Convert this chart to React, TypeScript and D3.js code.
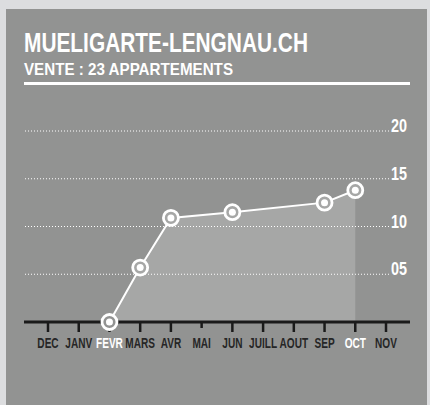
import * as d3 from "d3";

const months = ["DEC", "JANV", "FEVR", "MARS", "AVR", "MAI", "JUN", "JUILL", "AOUT", "SEP", "OCT", "NOV"];
const highlightMonths = ["FEVR", "OCT"];
const saleMonths = ["FEVR", "MARS", "AVR", "JUN", "SEP", "OCT"];
const saleValues = [0, 5.7, 10.9, 11.5, 12.5, 13.8];
const yTicks = [5, 10, 15, 20];

const W = 430;
const H = 405;
const FONT = "'Liberation Sans', Arial, sans-serif";

const PANEL = "#929392";
const AREA = "#a6a7a6";
const OUTER = "#dcdddf";

// condensed look: squeeze a normal bold font horizontally
function CondText({
	x,
	y,
	sx,
	children,
	...rest
}: { x: number; y: number; sx: number; children: any } & Record<string, any>) {
	return (
		<text transform={`translate(${x},${y}) scale(${sx},1)`} fontWeight="bold" {...rest}>
			{children}
		</text>
	);
}

export default function App() {
	const x = d3.scalePoint<string>().domain(months).range([48, 386]);
	const y = d3.scaleLinear().domain([0, 20]).range([322, 131]);

	const points = saleMonths.map((m, i) => ({ m, v: saleValues[i] }));

	const line = d3
		.line<{ m: string; v: number }>()
		.x((d) => x(d.m)!)
		.y((d) => y(d.v));
	const area = d3
		.area<{ m: string; v: number }>()
		.x((d) => x(d.m)!)
		.y0(y(0))
		.y1((d) => y(d.v));

	return (
		<svg
			width={W}
			height={H}
			style={{ position: "absolute", left: 0, top: 0, display: "block" }}
			fontFamily={FONT}
		>
			<rect width={W} height={H} fill={OUTER} />
			<rect x={6} y={9} width={421} height={H - 9} fill={PANEL} />

			<text
				x={24}
				y={52}
				fill="#fff"
				fontSize={28}
				fontWeight="bold"
				textLength={284}
				lengthAdjust="spacingAndGlyphs"
			>
				MUELIGARTE-LENGNAU.CH
			</text>
			<text
				x={24}
				y={75}
				fill="#fff"
				fontSize={16.3}
				fontWeight="bold"
				textLength={209}
				lengthAdjust="spacingAndGlyphs"
			>
				VENTE : 23 APPARTEMENTS
			</text>
			<rect x={24} y={82} width={386} height={3} fill="#fff" />

			{/* area under curve */}
			<path d={area(points) ?? ""} fill={AREA} />

			{/* grid */}
			{yTicks.map((t) => (
				<g key={t}>
					<line
						x1={25}
						x2={390}
						y1={y(t)}
						y2={y(t)}
						stroke="#fff"
						strokeWidth={1}
						strokeDasharray="1 2"
					/>
					<CondText x={391} y={y(t) + 1} sx={0.8} fill="#fff" fontSize={18}>
						{t < 10 ? "0" + t : t}
					</CondText>
				</g>
			))}

			{/* axis */}
			<rect x={24} y={320.5} width={386} height={3} fill="#1a1a1a" />
			{months.map((m) => (
				<g key={m}>
					<line
						x1={x(m)}
						x2={x(m)}
						y1={322}
						y2={m === "MAI" ? 328 : 332}
						stroke="#1a1a1a"
						strokeWidth={2.5}
					/>
					<CondText
						x={x(m)!}
						y={348}
						sx={0.72}
						textAnchor="middle"
						fontSize={14}
						fill={highlightMonths.includes(m) ? "#fff" : "#262626"}
					>
						{m}
					</CondText>
				</g>
			))}

			<path d={line(points) ?? ""} fill="none" stroke="#fff" strokeWidth={2} />
			{points.map((p) => (
				<g key={p.m} transform={`translate(${x(p.m)},${y(p.v)})`}>
					<circle r={7.5} fill={p.v === 0 ? PANEL : AREA} stroke="#fff" strokeWidth={2.8} />
					<circle r={3.5} fill="#fff" />
				</g>
			))}
		</svg>
	);
}
